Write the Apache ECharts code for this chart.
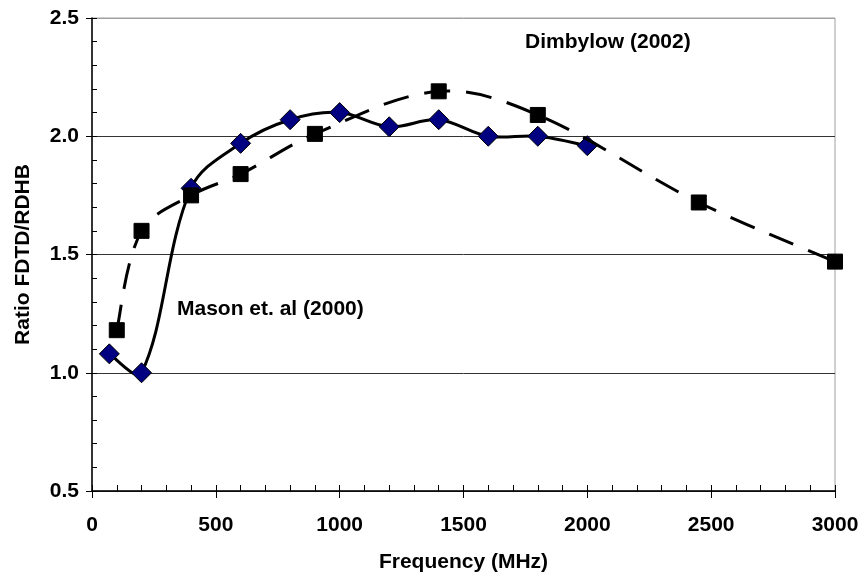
<!DOCTYPE html>
<html>
<head>
<meta charset="utf-8">
<script src="https://cdn.jsdelivr.net/npm/echarts@6/dist/echarts.min.js"></script>
<style>
html,body{margin:0;padding:0;background:#fff;}
#c{width:863px;height:575px;}
</style>
</head>
<body>
<div id="c"></div>
<script>
// Mason et. al (2000)
const masonX = [70, 200, 400, 600, 800, 1000, 1200, 1400, 1600, 1800, 2000];
const masonY = [1.08, 1.00, 1.78, 1.97, 2.07, 2.10, 2.04, 2.07, 2.00, 2.00, 1.96];
// Dimbylow (2002)
const dimX = [100, 200, 400, 600, 900, 1400, 1800, 2450, 3000];
const dimY = [1.18, 1.60, 1.75, 1.84, 2.01, 2.19, 2.09, 1.72, 1.47];
const xTicks = [0, 500, 1000, 1500, 2000, 2500, 3000];
const yTicks = [0.5, 1.0, 1.5, 2.0, 2.5];
const seriesNames = ['Mason et. al (2000)', 'Dimbylow (2002)'];
const xTitle = 'Frequency (MHz)';
const yTitle = 'Ratio FDTD/RDHB';

const FONT = '"Liberation Sans", Arial, sans-serif';
const chart = echarts.init(document.getElementById('c'), null, {renderer: 'canvas'});

const pairs = (xs, ys) => xs.map((x, i) => [x, ys[i]]);

// Smoothed curve through the data points, positioned by the chart's own axes (api.coord)
function smoothLine(xs, ys, lineStyle) {
  return function (params, api) {
    if (params.dataIndex !== 0) return null;
    const pts = xs.map((x, i) => api.coord([x, ys[i]]));
    const n = pts.length, s = 0.35;
    const cin = [], cout = [];
    for (let i = 0; i < n; i++) {
      const p = pts[i];
      if (i === 0 || i === n - 1) {
        const q = i === 0 ? pts[1] : pts[n - 2];
        const c = [p[0] + (q[0] - p[0]) / 6, p[1] + (q[1] - p[1]) / 6];
        cin[i] = c; cout[i] = c;
        continue;
      }
      const pr = pts[i - 1], nx = pts[i + 1];
      const vx = nx[0] - pr[0], vy = nx[1] - pr[1];
      const lp = Math.hypot(p[0] - pr[0], p[1] - pr[1]);
      const ln = Math.hypot(nx[0] - p[0], nx[1] - p[1]);
      const r = ln / (lp + ln);
      cin[i] = [p[0] - vx * s * (1 - r), p[1] - vy * s * (1 - r)];
      cout[i] = [p[0] + vx * s * r, p[1] + vy * s * r];
    }
    let d = 'M' + pts[0][0] + ' ' + pts[0][1];
    for (let i = 0; i < n - 1; i++) {
      d += ' C' + cout[i][0] + ' ' + cout[i][1] + ' ' + cin[i + 1][0] + ' ' + cin[i + 1][1] + ' ' + pts[i + 1][0] + ' ' + pts[i + 1][1];
    }
    return {
      type: 'path',
      shape: {pathData: d},
      style: Object.assign({fill: null, stroke: '#000', lineWidth: 3, lineJoin: 'round'}, lineStyle)
    };
  };
}

const option = {
  animation: false,
  backgroundColor: '#fff',
  grid: {left: 92, right: 28, top: 18, bottom: 84, containLabel: false, outerBoundsMode: 'none',
    show: true, borderColor: '#a0a0a0', borderWidth: 1, backgroundColor: 'transparent'},
  xAxis: [{
    type: 'value', min: xTicks[0], max: xTicks[xTicks.length - 1], interval: 500,
    position: 'bottom',
    axisLine: {onZero: false, lineStyle: {color: '#000', width: 1.5}},
    axisTick: {show: true, inside: false, length: 7, lineStyle: {color: '#000', width: 1}},
    axisLabel: {color: '#000', fontFamily: FONT, fontWeight: 'bold', fontSize: 21, margin: 24,
      formatter: v => String(v)},
    splitLine: {show: false},
    name: xTitle, nameLocation: 'middle', nameGap: 61,
    nameTextStyle: {color: '#000', fontFamily: FONT, fontWeight: 'bold', fontSize: 21}
  }, {
    type: 'value', min: 0, max: 3000, interval: 100, position: 'bottom',
    axisLine: {show: false, onZero: false},
    axisTick: {show: true, inside: true, length: 6, lineStyle: {color: '#000', width: 1}},
    axisLabel: {show: false}, splitLine: {show: false}
  }],
  yAxis: [{
    type: 'value', min: yTicks[0], max: yTicks[yTicks.length - 1], interval: 0.5,
    position: 'left',
    axisLine: {show: true, onZero: false, lineStyle: {color: '#000', width: 1.5}},
    axisTick: {show: true, inside: false, length: 6, lineStyle: {color: '#000', width: 1}},
    axisLabel: {color: '#000', fontFamily: FONT, fontWeight: 'bold', fontSize: 21, margin: 13,
      formatter: v => v.toFixed(1)},
    splitLine: {show: true, lineStyle: {color: ['#333', '#333', '#333', '#333', '#a0a0a0'], width: 1}},
    name: yTitle, nameLocation: 'middle', nameGap: 58, nameRotate: 90,
    nameTextStyle: {color: '#000', fontFamily: FONT, fontWeight: 'bold', fontSize: 21}
  }, {
    type: 'value', min: 0.5, max: 2.5, interval: 0.1, position: 'left',
    axisLine: {show: false, onZero: false},
    axisTick: {show: true, inside: true, length: 5, lineStyle: {color: '#000', width: 1}},
    axisLabel: {show: false}, splitLine: {show: false}
  }],
  series: [{
    name: seriesNames[0] + ' line', type: 'custom', xAxisIndex: 0, yAxisIndex: 0,
    data: pairs(masonX, masonY), encode: {x: 0, y: 1},
    renderItem: smoothLine(masonX, masonY, {}), z: 2
  }, {
    name: seriesNames[0], type: 'scatter', xAxisIndex: 0, yAxisIndex: 0,
    data: pairs(masonX, masonY),
    symbol: 'diamond', symbolSize: 20, z: 3,
    itemStyle: {color: '#000080', borderColor: '#000', borderWidth: 1, opacity: 1}
  }, {
    name: seriesNames[1] + ' line', type: 'custom', xAxisIndex: 0, yAxisIndex: 0,
    data: pairs(dimX, dimY), encode: {x: 0, y: 1},
    renderItem: smoothLine(dimX, dimY, {lineDash: [26, 16], lineCap: 'butt'}), z: 4
  }, {
    name: seriesNames[1], type: 'scatter', xAxisIndex: 0, yAxisIndex: 0,
    data: pairs(dimX, dimY),
    symbol: 'rect', symbolSize: 15, z: 5,
    itemStyle: {color: '#000', borderColor: '#000', borderWidth: 1, opacity: 1}
  }],
  graphic: [{
    type: 'text', left: 177, top: 299,
    style: {text: seriesNames[0], fill: '#000', font: 'bold 21px ' + FONT}
  }, {
    type: 'text', left: 525, top: 32,
    style: {text: seriesNames[1], fill: '#000', font: 'bold 21px ' + FONT}
  }]
};
chart.setOption(option);
</script>
</body>
</html>
